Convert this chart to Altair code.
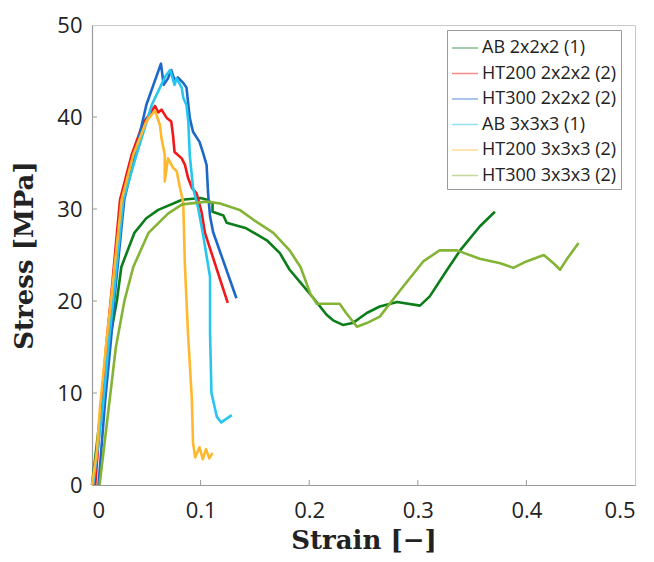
import altair as alt
import pandas as pd

series_names = ["AB 2x2x2 (1)", "HT200 2x2x2 (2)", "HT300 2x2x2 (2)",
                "AB 3x3x3 (1)", "HT200 3x3x3 (2)", "HT300 3x3x3 (2)"]
series_colors = ["#0b7d1a", "#f01818", "#1c68c8", "#26c6ee", "#ffb82e", "#84b436"]

ab2_x = [0.0, 0.005, 0.010, 0.016, 0.023, 0.027, 0.039, 0.050, 0.061, 0.083, 0.100, 0.106, 0.111, 0.111,
         0.121, 0.124, 0.142, 0.161, 0.173, 0.182, 0.192, 0.204, 0.216, 0.222, 0.231, 0.240, 0.253,
         0.265, 0.281, 0.302, 0.311, 0.327, 0.339, 0.357, 0.371]
ab2_y = [0, 5, 10, 15.5, 20.1, 23.7, 27.4, 29.0, 29.9, 31.0, 31.2, 31.0, 30.6, 29.7,
         29.3, 28.5, 27.9, 26.6, 25.2, 23.4, 22.0, 20.3, 18.5, 17.9, 17.4, 17.6, 18.7,
         19.4, 19.9, 19.5, 20.5, 23.4, 25.5, 28.1, 29.7]

ht200_2_x = [0.003, 0.008, 0.013, 0.018, 0.0258, 0.0365, 0.047, 0.058, 0.061, 0.064, 0.0688, 0.073,
             0.0746, 0.076, 0.0826, 0.0856, 0.0884, 0.092, 0.0963, 0.101, 0.104, 0.125]
ht200_2_y = [0, 8, 15, 21, 31, 35.9, 39.3, 41.2, 40.5, 40.8, 39.9, 39.5,
             38.0, 36.2, 35.5, 34.8, 33.4, 32.3, 31.7, 29.6, 27.4, 19.8]

ht300_2_x = [0.006, 0.012, 0.0175, 0.0205, 0.0297, 0.0396, 0.050, 0.0635, 0.066, 0.070, 0.073, 0.076,
             0.079, 0.084, 0.087, 0.090, 0.093, 0.099, 0.102, 0.1055, 0.107, 0.1087, 0.1115, 0.133]
ht300_2_y = [0, 9, 15.8, 20.1, 31, 35.9, 41.3, 45.8, 43.5, 44.2, 45.1, 44.0,
             44.3, 43.7, 43.2, 39.9, 38.4, 37.3, 36.2, 34.8, 31.5, 29.2, 27.5, 20.3]

ab3_x = [0.001, 0.010, 0.0157, 0.0196, 0.0288, 0.041, 0.055, 0.065, 0.068, 0.072, 0.076, 0.078,
         0.0826, 0.084, 0.087, 0.0887, 0.090, 0.093, 0.0976, 0.102, 0.1087, 0.1087, 0.110,
         0.115, 0.119, 0.1287]
ab3_y = [0, 8.5, 15.8, 20.1, 31, 35.9, 41.3, 43.8, 44.5, 45.1, 43.5, 44.2,
         43.2, 42.1, 41.3, 39.5, 35.9, 32.3, 30.2, 27.4, 22.6, 16.5, 10.0,
         7.4, 6.8, 7.6]

ht200_3_x = [0.0, 0.0043, 0.0074, 0.0135, 0.0175, 0.0273, 0.038, 0.050, 0.058, 0.0626, 0.064, 0.067,
             0.067, 0.070, 0.0746, 0.078, 0.081, 0.084, 0.0856, 0.0884, 0.092, 0.093, 0.095, 0.099,
             0.102, 0.105, 0.108, 0.111]
ht200_3_y = [0, 3.5, 8.5, 15.8, 20.1, 31, 35.9, 39.5, 40.7, 39.1, 37.7, 35.9,
             33.0, 35.5, 34.5, 34.1, 32.3, 30.7, 23.7, 16.5, 9.2, 4.6, 3.0, 4.1,
             2.8, 3.9, 2.9, 3.5]

ht300_3_x = [0.007, 0.012, 0.017, 0.022, 0.030, 0.038, 0.052, 0.070, 0.083, 0.106, 0.118, 0.136,
             0.149, 0.167, 0.182, 0.192, 0.201, 0.207, 0.228, 0.234, 0.244, 0.253, 0.265, 0.284,
             0.305, 0.320, 0.336, 0.357, 0.376, 0.388, 0.400, 0.416, 0.425, 0.431, 0.437, 0.443, 0.448]
ht300_3_y = [0, 5, 10, 15, 20.1, 23.7, 27.4, 29.5, 30.5, 30.8, 30.6, 29.9,
             28.8, 27.4, 25.5, 23.7, 20.8, 19.7, 19.7, 18.7, 17.2, 17.6, 18.3, 21.2,
             24.3, 25.5, 25.5, 24.6, 24.1, 23.6, 24.3, 25.0, 24.1, 23.4, 24.5, 25.5, 26.3]

x_ticks = [0.1, 0.2, 0.3, 0.4]
y_ticks = [10, 20, 30, 40]

all_x = [ab2_x, ht200_2_x, ht300_2_x, ab3_x, ht200_3_x, ht300_3_x]
all_y = [ab2_y, ht200_2_y, ht300_2_y, ab3_y, ht200_3_y, ht300_3_y]

rows = []
for name, xs, ys in zip(series_names, all_x, all_y):
    for i, (a, b) in enumerate(zip(xs, ys)):
        rows.append({"series": name, "strain": a, "stress": b, "i": i})
df = pd.DataFrame(rows)

W, H = 543, 460
xscale = alt.Scale(domain=[0, 0.5], nice=False)
yscale = alt.Scale(domain=[0, 50], nice=False)

lines = alt.Chart(df).mark_line(strokeWidth=2.6, strokeJoin="round").encode(
    x=alt.X("strain:Q", scale=xscale,
            axis=alt.Axis(title="Strain [−]", values=[0, 0.1, 0.2, 0.3, 0.4, 0.5], format="~g",
                          grid=False, ticks=False, labelPadding=15, titlePadding=6)),
    y=alt.Y("stress:Q", scale=yscale,
            axis=alt.Axis(title="Stress [MPa]", values=[0, 10, 20, 30, 40, 50],
                          grid=False, ticks=False, labelPadding=10, titlePadding=19)),
    color=alt.Color("series:N", scale=alt.Scale(domain=series_names, range=series_colors),
                    legend=alt.Legend(title=None, orient="none", legendX=355, legendY=5,
                                      symbolType="stroke", symbolSize=676, symbolStrokeWidth=1.5,
                                      symbolOpacity=0.5, labelFontSize=18, labelFont="Open Sans",
                                      labelColor="#222222", rowPadding=2.5, padding=4,
                                      labelOffset=3,
                                      strokeColor="#9a9a9a", fillColor="white", labelLimit=300)),
    order=alt.Order("i:Q"),
)

xt = alt.Chart(pd.DataFrame({"t": x_ticks})).mark_rule(color="#9a9a9a", strokeWidth=1).encode(
    x=alt.X("t:Q", scale=xscale), y=alt.value(H), y2=alt.value(H - 5))
yt = alt.Chart(pd.DataFrame({"t": y_ticks})).mark_rule(color="#9a9a9a", strokeWidth=1).encode(
    y=alt.Y("t:Q", scale=yscale), x=alt.value(0), x2=alt.value(5))

chart = alt.layer(lines, xt, yt).properties(
    width=W, height=H,
    background="white",
    autosize=alt.AutoSizeParams(type="none"),
    padding={"left": 84, "top": 17, "right": 8, "bottom": 69},
).configure_view(stroke="#c8c8c8", strokeWidth=1).configure_axis(
    domainColor="#9a9a9a", domainWidth=1.2,
    labelFont="Open Sans", labelFontSize=22, labelColor="#222222",
    titleFont="DejaVu Serif", titleFontWeight="bold", titleFontSize=26, titleColor="#222222",
)

chart.save("out.html", embed_options={"renderer": "svg", "actions": False})
